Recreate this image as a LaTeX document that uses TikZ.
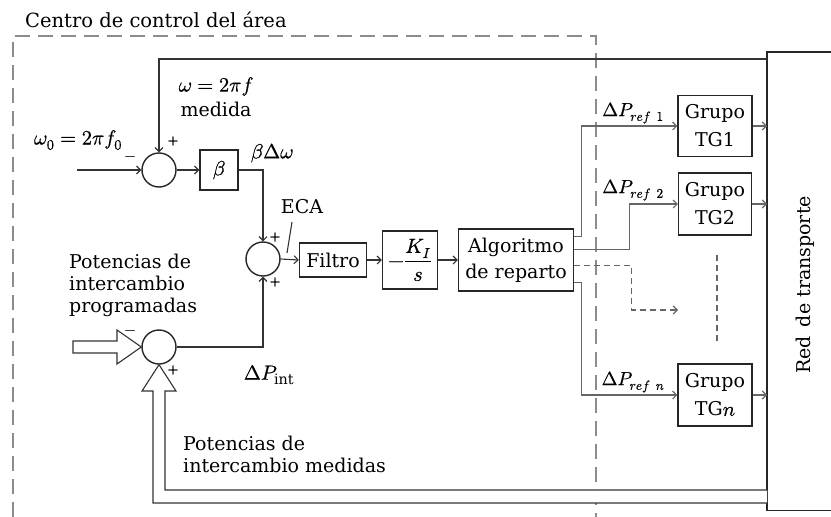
\documentclass[tikz,border=0pt]{standalone}
\usepackage{fontspec}
\usepackage{unicode-math}
\setmainfont{DejaVu Serif}
\setmathfont{Latin Modern Math}[FakeBold=0.6]
\usetikzlibrary{arrows.meta,calc}
\begin{document}
\begin{tikzpicture}[x=1pt,y=-1pt,
  every node/.style={font=\fontsize{19}{22}\selectfont, inner sep=0pt},
  mth/.style={font=\fontsize{20.5}{22}\selectfont},
  blk/.style={draw=black!85, line width=1.4pt, align=center},
  sum/.style={circle, draw=black!85, line width=1.4pt, minimum size=34pt},
  sgn/.style={font=\fontsize{14}{14}\selectfont},
  ln/.style={draw=black!80, line width=1.1pt},
  outl/.style={draw=black!60, line width=1.1pt},
  arr/.style={-{Straight Barb[length=4pt,width=8pt]}},
  hol/.style={draw=black!80, line width=1.1pt, fill=white, line join=miter},
  area/.style={draw=black!45, line width=1.5pt, dash pattern=on 15pt off 8pt},
  odash/.style={dash pattern=on 6pt off 4pt}]
\useasboundingbox (0,0) rectangle (831,517);

% area frame and title
\draw[area] (13,517) -- (13,36) -- (596,36) -- (596,517);
\node[anchor=west, font=\fontsize{19.5}{22}\selectfont] (title) at (25,20) {Centro de control del área};

% blocks
\node[sum] (s1) at (159,170) {};
\node[sum] (s2) at (263,259) {};
\node[sum] (s3) at (159,347) {};
\node[blk, mth, minimum width=38pt, minimum height=40pt] (beta) at (219,170) {$\beta$};
\node[blk, minimum width=67pt, minimum height=34pt] (filt) at (333,260) {Filtro};
\node[blk, mth, minimum width=55pt, minimum height=58pt] (ki) at (410,260) {$-\dfrac{K_I}{s}$};
\node[blk, minimum width=115pt, minimum height=62pt, font=\fontsize{19}{26}\selectfont] (alg) at (516,260) {Algoritmo\\de reparto};
\node[blk, minimum width=74pt, minimum height=61pt, font=\fontsize{19}{28}\selectfont] (tg1) at (715,126) {Grupo\\TG1};
\node[blk, minimum width=73pt, minimum height=62pt, font=\fontsize{19}{28}\selectfont] (tg2) at (715,204) {Grupo\\TG2};
\node[blk, minimum width=74pt, minimum height=62pt, font=\fontsize{19}{28}\selectfont] (tgn) at (715,395) {Grupo\\TG\fontsize{20.5}{28}\selectfont$n$};

% transport network
\node[minimum width=64pt, minimum height=458pt, anchor=north west] (red) at (767,52) {};
\draw[black!85, line width=1.4pt] (red.north east) -- (red.north west) -- (red.south west) -- (red.south east);
\node[rotate=90, font=\fontsize{19}{22}\selectfont] (redlbl) at (805,285) {Red\, de transporte};

% coordinates for free ends
\coordinate (fb) at (767,59);
\coordinate (in0) at (77,170);
\coordinate (dend) at (678,310);
\coordinate (dots1) at (717,255);
\coordinate (dots2) at (717,343);
\coordinate (m1) at (767,490);
\coordinate (m2) at (767,503);
\coordinate (eca1) at (292,222);
\coordinate (eca2) at (287,253);

% main connectors
\draw[ln,arr] (fb) -| (s1.north);
\draw[ln,arr] (in0) -- (s1.west);
\draw[ln,arr] (s1.east) -- (beta.west);
\draw[ln,arr] (beta.east) -| (s2.north);
\draw[ln,arr] (s3.east) -| (s2.south);
\draw[ln,arr] (s2.east) -- (filt.west);
\draw[ln,arr] (filt.east) -- (ki.west);
\draw[ln,arr] (ki.east) -- (alg.west);
\draw[ln] (eca1) -- (eca2);

% outputs of the dispatch algorithm
\draw[outl,arr] ([yshift=-8pt]alg.north east) -- ++(7,0) |- (tg1.west);
\draw[outl,arr] ([yshift=-21pt]alg.north east) -- ++(55,0) |- (tg2.west);
\draw[outl,odash,arr] ([yshift=-37pt]alg.north east) -- ++(57,0) |- (dend);
\draw[outl,arr] ([yshift=9pt]alg.south east) -- ++(7,0) |- (tgn.west);
\draw[outl,odash] (dots1) -- (dots2);
\draw[outl,arr] (tg1.east) -- (tg1.east -| red.west);
\draw[outl,arr] (tg2.east) -- (tg2.east -| red.west);
\draw[outl,arr] (tgn.east) -- (tgn.east -| red.west);

% hollow arrows
\draw[hol] (73,341) -- (117,341) -- (117,330) -- (s3.west) -- (117,364) -- (117,353) -- (73,353) -- cycle;
\draw[hol] (m1) -- (165,490) -- (165,391) -- (176,391) -- (s3.south) -- (142,391) -- (153,391) -- (153,503) -- (m2);

% labels
\node[mth] (w0) at (78,140) {$\omega_0 = 2\pi f_0$};
\node[align=center, font=\fontsize{19}{25}\selectfont] (wlbl) at (216,97) {\fontsize{20.5}{25}\selectfont$\omega = 2\pi f$\\medida};
\node[mth] (bdw) at (272,153) {$\beta\Delta\omega$};
\node (eca) at (302,207) {ECA};
\node[mth] (dpint) at (269,375) {$\Delta P_{\mathrm{int}}$};
\node[font=\fontsize{19}{22}\selectfont] (dp1) at (633,113) {$\Delta P_{ref\ 1}$};
\node[font=\fontsize{19}{22}\selectfont] (dp2) at (633,190) {$\Delta P_{ref\ 2}$};
\node[font=\fontsize{19}{22}\selectfont] (dpn) at (633,382) {$\Delta P_{ref\ n}$};
\node[anchor=west, align=left] (pprog) at (69,285) {Potencias de\\intercambio\\programadas};
\node[anchor=west, align=left] (pmed) at (183,454) {Potencias de\\intercambio medidas};

% signs
\node[sgn] (s1m) at (130,158) {$-$};
\node[sgn] (s1p) at (173,141) {$+$};
\node[sgn] (s2p1) at (275,237) {$+$};
\node[sgn] (s2p2) at (275,282) {$+$};
\node[sgn] (s3m) at (130,332) {$-$};
\node[sgn] (s3p) at (173,370) {$+$};
\end{tikzpicture}
\end{document}
